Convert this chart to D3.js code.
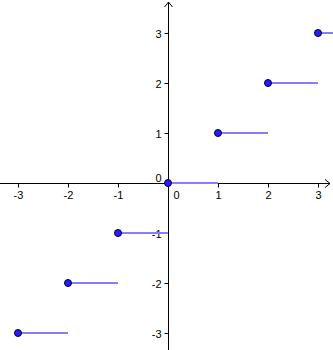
<!DOCTYPE html>
<meta charset="utf-8">
<script src="https://d3js.org/d3.v7.min.js"></script>
<style>
  body { margin: 0; background: #fff; }
  text { font-family: "Liberation Sans", Arial, sans-serif; font-size: 11px; fill: #000; }
</style>
<div id="chart"></div>
<script>
// floor function steps: y = n on [n, n+1)
var stepStart = [-3, -2, -1, 0, 1, 2, 3];
var stepValue = [-3, -2, -1, 0, 1, 2, 3];
var xTicks = [-3, -2, -1, 1, 2, 3];
var yTicks = [-3, -2, -1, 1, 2, 3];

var width = 333, height = 350;

var x = d3.scaleLinear().domain([-3.36, 3.3]).range([0, width]);
var y = d3.scaleLinear().domain([3.66, -3.34]).range([0, height]);

var svg = d3.select("#chart").append("svg")
  .attr("width", width)
  .attr("height", height);

var x0 = Math.round(x(0)) + 0.5, y0 = Math.round(y(0)) + 0.5;

// axes lines
svg.append("line").attr("x1", 0).attr("x2", width - 3)
  .attr("y1", y0).attr("y2", y0).attr("stroke", "#000");
svg.append("line").attr("x1", x0).attr("x2", x0)
  .attr("y1", 2).attr("y2", height).attr("stroke", "#000");

// arrow heads
svg.append("path")
  .attr("d", "M" + (width - 8) + "," + (y0 - 4) + "L" + (width - 3) + "," + y0 + "L" + (width - 8) + "," + (y0 + 4))
  .attr("fill", "none").attr("stroke", "#000");
svg.append("path")
  .attr("d", "M" + (x0 - 4) + ",7L" + x0 + ",2L" + (x0 + 4) + ",7")
  .attr("fill", "none").attr("stroke", "#000");

// x ticks
xTicks.forEach(function(t) {
  var px = Math.round(x(t)) + 0.5;
  svg.append("line").attr("x1", px).attr("x2", px)
    .attr("y1", y0).attr("y2", y0 + 4).attr("stroke", "#000");
  svg.append("text").attr("x", px).attr("y", y0 + 15)
    .attr("text-anchor", "middle").text(t);
});
svg.append("text").attr("x", x0 + 8).attr("y", y0 + 15)
  .attr("text-anchor", "middle").text("0");

// y ticks
yTicks.forEach(function(t) {
  var py = Math.round(y(t)) + 0.5;
  svg.append("line").attr("x1", x0 - 4).attr("x2", x0)
    .attr("y1", py).attr("y2", py).attr("stroke", "#000");
  svg.append("text").attr("x", x0 - 7).attr("y", py + 4)
    .attr("text-anchor", "end").text(t);
});
svg.append("text").attr("x", x0 - 7).attr("y", y0 - 2)
  .attr("text-anchor", "end").text("0");

// step segments
stepStart.forEach(function(s, i) {
  svg.append("line")
    .attr("x1", x(s)).attr("x2", x(s + 1))
    .attr("y1", y(stepValue[i])).attr("y2", y(stepValue[i]))
    .attr("stroke", "#8a7cff").attr("stroke-width", 2);
});

// closed endpoints
stepStart.forEach(function(s, i) {
  svg.append("circle")
    .attr("cx", x(s)).attr("cy", y(stepValue[i])).attr("r", 3.5)
    .attr("fill", "#2a1bff").attr("stroke", "#000033").attr("stroke-width", 1);
});
</script>
